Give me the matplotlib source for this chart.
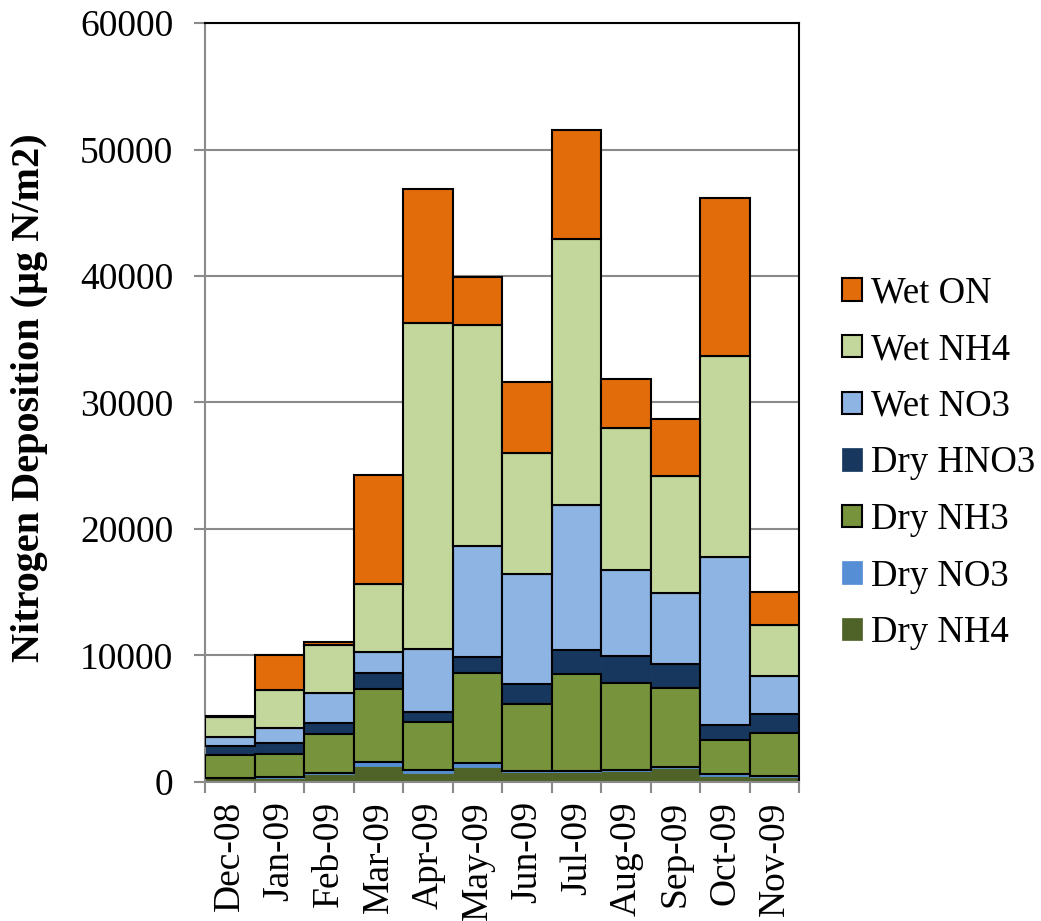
import matplotlib
matplotlib.use("Agg")
import matplotlib.pyplot as plt
import numpy as np

months = ["Dec-08", "Jan-09", "Feb-09", "Mar-09", "Apr-09", "May-09",
          "Jun-09", "Jul-09", "Aug-09", "Sep-09", "Oct-09", "Nov-09"]

dry_nh4 = [300, 340, 610, 1265, 700, 1190, 750, 815, 870, 1080, 470, 395]
dry_no3 = [50, 30, 130, 315, 230, 290, 150, 50, 50, 105, 130, 50]
dry_nh3 = [1750, 1820, 3030, 5750, 3840, 7160, 5240, 7645, 6930, 6265, 2750, 3425]
dry_hno3 = [750, 920, 920, 1290, 760, 1240, 1580, 1920, 2110, 1900, 1150, 1480]
wet_no3 = [700, 1180, 2350, 1660, 4960, 8780, 8720, 11470, 6770, 5610, 13290, 3030]
wet_nh4 = [1550, 2960, 3790, 5400, 25790, 17470, 9570, 21020, 11250, 9230, 15890, 4060]
wet_on = [150, 2800, 210, 8570, 10600, 3790, 5610, 8620, 3880, 4510, 12490, 2600]

# (name, values, fill colour, has black outline)
series = [
    ("Dry NH4", dry_nh4, "#4F6228", False),
    ("Dry NO3", dry_no3, "#558ED5", False),
    ("Dry NH3", dry_nh3, "#77933C", True),
    ("Dry HNO3", dry_hno3, "#17375E", False),
    ("Wet NO3", wet_no3, "#8EB4E3", True),
    ("Wet NH4", wet_nh4, "#C3D69B", True),
    ("Wet ON", wet_on, "#E36C0A", True),
]

plt.rcParams['font.family'] = ['Liberation Serif', 'DejaVu Serif']

fig = plt.figure(figsize=(10.41, 9.21), dpi=100)
ax = fig.add_axes([0.197, 0.151, 0.571, 0.824])

x = np.arange(len(months))
bottom = np.zeros(len(months))
handles = []
for name, vals, col, outl in series:
    v = np.array(vals, dtype=float)
    b = ax.bar(x, v, bottom=bottom, width=1.0, color=col,
               edgecolor="black" if outl else col,
               linewidth=1.5 if outl else 0.5, label=name, zorder=3 if outl else 2.5)
    handles.append(b)
    bottom += v

ax.set_xlim(-0.5, len(months) - 0.5)
ax.set_ylim(0, 60000)
ax.set_yticks(np.arange(0, 60001, 10000))
ax.yaxis.grid(True, color="#8a8a8a", linewidth=1.5, zorder=0)
ax.set_axisbelow(True)

ax.set_xticks(np.arange(-0.5, len(months), 1.0))
ax.set_xticklabels([])
ax.set_xticks(x, minor=True)
ax.set_xticklabels(months, minor=True, rotation=90, fontsize=27)
ax.tick_params(axis="x", which="minor", length=0, pad=14)
ax.tick_params(axis="x", which="major", length=8, width=1.5, color="#8a8a8a")
ax.tick_params(axis="y", labelsize=27, length=8, width=1.5, color="#8a8a8a", pad=15)

for s in ["left", "bottom"]:
    ax.spines[s].set_color("#8a8a8a")
    ax.spines[s].set_linewidth(1.5)
for s in ["top", "right"]:
    ax.spines[s].set_color("black")
    ax.spines[s].set_linewidth(1.5)

fig.text(30 / 1041, 1 - 398 / 921, "Nitrogen Deposition (µg N/m2)", rotation=90,
         fontsize=29, fontweight="bold", ha="center", va="center")

leg = ax.legend(handles[::-1], [s[0] for s in series][::-1], loc="center left",
                bbox_to_anchor=(1.015, 0.42), frameon=False, fontsize=26.5,
                handlelength=0.56, handleheight=0.56, labelspacing=0.6, handletextpad=0.25)

fig.savefig("out.png", dpi=100)
